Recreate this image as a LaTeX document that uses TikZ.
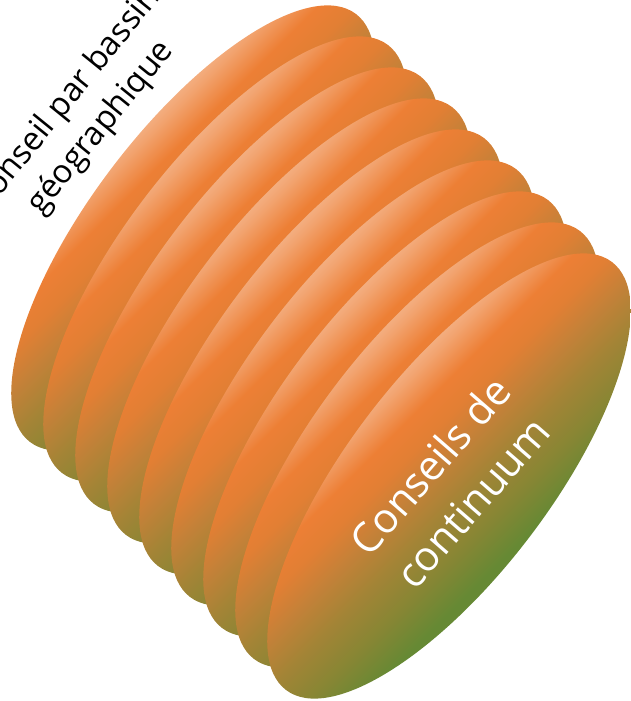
\documentclass[tikz,border=0pt]{standalone}
\usepackage{fontspec}
\setmainfont{Open Sans}
\usetikzlibrary{shapes.geometric}
\definecolor{ContLight}{HTML}{F7C6A5}
\definecolor{ContPeach}{HTML}{F5BA93}
\definecolor{ContApricot}{HTML}{F2A470}
\definecolor{ContOrange}{HTML}{ED7F35}
\definecolor{ContRust}{HTML}{E27F34}
\definecolor{ContBrown}{HTML}{C48138}
\definecolor{ContOlive}{HTML}{A38436}
\definecolor{ContMoss}{HTML}{868634}
\definecolor{ContGreen}{HTML}{668934}
\definecolor{ContDeep}{HTML}{5A8634}
\pgfdeclarehorizontalshading{contgrad}{100bp}{color(0bp)=(ContLight); color(37.8bp)=(ContPeach);
  color(40.2bp)=(ContApricot); color(43.5bp)=(ContOrange); color(46.5bp)=(ContRust);
  color(50bp)=(ContBrown); color(54bp)=(ContOlive); color(58.5bp)=(ContMoss);
  color(62.5bp)=(ContGreen); color(100bp)=(ContDeep)}

\begin{document}
\begin{tikzpicture}[x=0.75pt,y=-0.75pt]
  \tikzset{
    layer/.style={ellipse,shade,shading=contgrad,shading angle=-45,minimum width=403.5pt,
      minimum height=151.5pt,inner sep=0pt,outer sep=0pt,rotate=52.7},
    caption/.style={align=center,inner sep=0pt}
  }
  \useasboundingbox (0,0) rectangle (631,701);
  \foreach \i in {0,...,8}
    \node[layer] (layer\i) at ({193+32*\i},{228+31*\i}) {};
  \node[caption,text=black,font=\fontsize{24.5}{33}\selectfont,rotate=51] (basin) at (84,114)
    {Conseil par bassin\\géographique};
  \node[caption,text=white,font=\fontsize{31}{42}\selectfont,rotate=49] (continuum) at (451,484)
    {Conseils de\\continuum};
\end{tikzpicture}
\end{document}
